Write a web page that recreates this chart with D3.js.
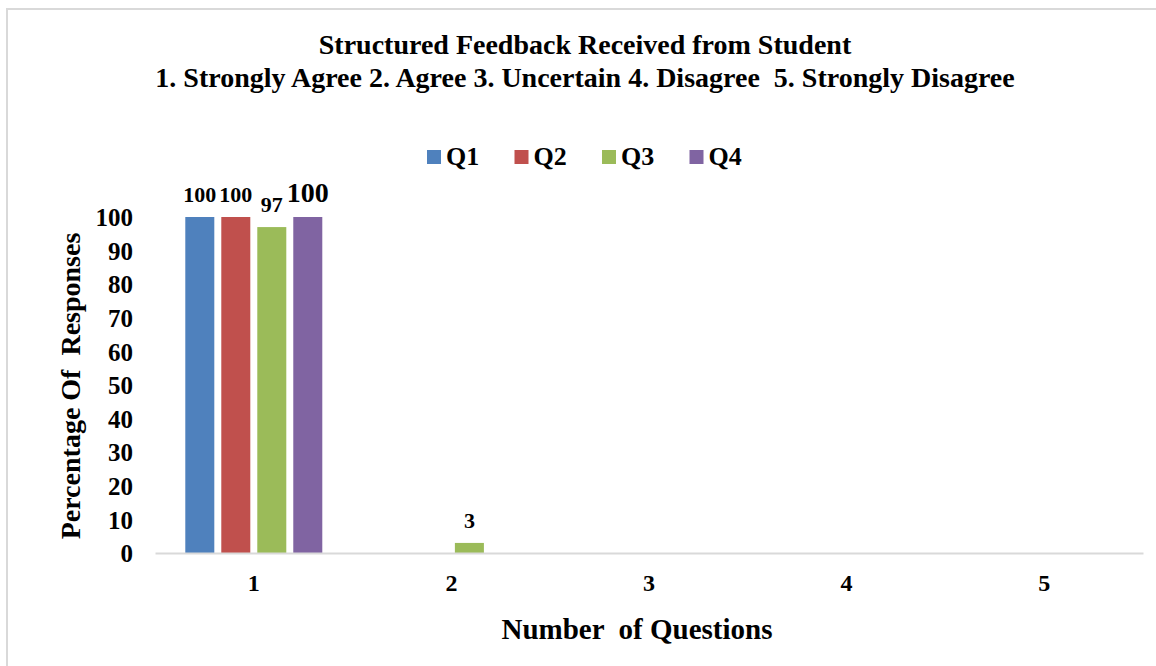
<!DOCTYPE html>
<html>
<head>
<meta charset="utf-8">
<script src="https://cdn.jsdelivr.net/npm/d3@7"></script>
<style>
  body { margin: 0; background: #fff; }
  text { font-family: "Liberation Serif", "Times New Roman", serif; font-weight: bold; fill: #000; white-space: pre; }
</style>
</head>
<body>
<div id="vis"></div>
<script>
// chart data
const categories = ["1", "2", "3", "4", "5"];
const seriesNames = ["Q1", "Q2", "Q3", "Q4"];
const q1 = [100, 0, 0, 0, 0];
const q2 = [100, 0, 0, 0, 0];
const q3 = [97, 3, 0, 0, 0];
const q4 = [100, 0, 0, 0, 0];
const yTicks = [0, 10, 20, 30, 40, 50, 60, 70, 80, 90, 100];
const colors = ["#4f81bd", "#c0504d", "#9bbb59", "#8064a2"];

const width = 1156, height = 666;
const seriesVals = [q1, q2, q3, q4];

const svg = d3.select("#vis").append("svg")
  .attr("width", width)
  .attr("height", height);

// outer frame
svg.append("rect")
  .attr("x", 7).attr("y", 9)
  .attr("width", 1200).attr("height", 700)
  .attr("fill", "none")
  .attr("stroke", "#d9d9d9")
  .attr("stroke-width", 2);

const x0 = d3.scaleBand().domain(categories).range([155, 1143])
  .paddingInner(0.3067).paddingOuter(0.1533);
const x1 = d3.scaleBand().domain(seriesNames).range([0, x0.bandwidth()])
  .paddingInner(0.194);
const y = d3.scaleLinear().domain([0, 100]).range([553, 217]);

// title
svg.append("text").attr("x", 585).attr("y", 54).attr("text-anchor", "middle")
  .style("font-size", "28px").text("Structured Feedback Received from Student");
svg.append("text").attr("x", 585).attr("y", 87).attr("text-anchor", "middle")
  .style("font-size", "28px").text("1. Strongly Agree 2. Agree 3. Uncertain 4. Disagree  5. Strongly Disagree");

// legend
const legend = svg.append("g");
seriesNames.forEach((s, i) => {
  const lx = 427 + i * 87.5;
  legend.append("rect").attr("x", lx).attr("y", 150).attr("width", 14).attr("height", 14)
    .attr("fill", colors[i]);
  legend.append("text").attr("x", lx + 19).attr("y", 165)
    .style("font-size", "26px").text(s);
});

// bars
const groups = svg.append("g").selectAll("g")
  .data(categories)
  .enter().append("g")
  .attr("transform", d => `translate(${x0(d)},0)`);

groups.selectAll("rect")
  .data((c, ci) => seriesNames.map((s, si) => ({ s, si, v: seriesVals[si][ci] })))
  .enter().append("rect")
  .attr("x", d => x1(d.s))
  .attr("y", d => y(d.v))
  .attr("width", x1.bandwidth())
  .attr("height", d => y(0) - y(d.v))
  .attr("fill", d => colors[d.si]);

// value labels (only non-zero), Q4 label is bigger like in the original
groups.selectAll("text")
  .data((c, ci) => seriesNames.map((s, si) => ({ s, si, v: seriesVals[si][ci] })).filter(d => d.v > 0))
  .enter().append("text")
  .attr("x", d => x1(d.s) + x1.bandwidth() / 2)
  .attr("y", d => y(d.v) - 15)
  .attr("text-anchor", "middle")
  .style("font-size", d => d.si === 3 ? "28px" : "22px")
  .text(d => d.v);

// y axis (labels only)
const yAxis = svg.append("g")
  .attr("transform", "translate(133,0)")
  .call(d3.axisLeft(y).tickValues(yTicks).tickSize(0).tickPadding(0));
yAxis.select(".domain").remove();
yAxis.selectAll("text")
  .attr("dy", "0.35em")
  .style("font-size", "25px")
  .style("font-family", "Liberation Serif, serif")
  .style("font-weight", "bold")
  .attr("fill", "#000");

// x axis
const xAxis = svg.append("g")
  .attr("transform", `translate(0,${y(0)})`)
  .call(d3.axisBottom(x0).tickSize(0).tickPadding(0));
xAxis.select(".domain").attr("stroke", "#d9d9d9").attr("stroke-width", 2);
xAxis.selectAll("text")
  .attr("dy", 0).attr("y", 38)
  .style("font-size", "24px")
  .style("font-family", "Liberation Serif, serif")
  .style("font-weight", "bold")
  .attr("fill", "#000");

// axis titles
svg.append("text").attr("x", 637).attr("y", 639).attr("text-anchor", "middle")
  .style("font-size", "29px").text("Number  of Questions");
svg.append("text")
  .attr("transform", "translate(80,386) rotate(-90)")
  .attr("text-anchor", "middle")
  .style("font-size", "28px").text("Percentage Of  Responses");
</script>
</body>
</html>
